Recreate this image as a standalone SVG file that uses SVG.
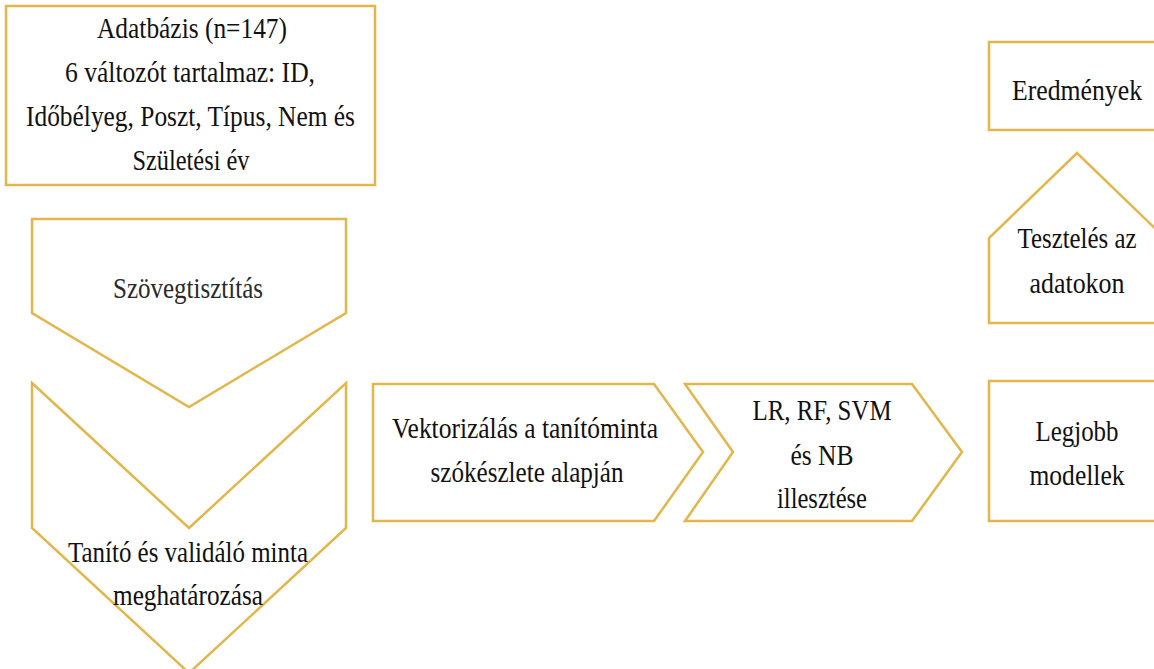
<svg xmlns="http://www.w3.org/2000/svg" width="1154" height="669" viewBox="0 0 1154 669">
<style>
.s{fill:#ffffff;stroke:#E3B64C;stroke-width:2.5;stroke-linejoin:miter}
text{font-family:'Liberation Serif','DejaVu Serif',serif;font-size:30px;fill:#111111;text-anchor:middle}
.g{fill:#2a2a2a}
</style>
<rect width="1154" height="669" fill="#ffffff"/>
<g id="adatbazis">
<rect class="s" x="6" y="6" width="369" height="179"/>
<text x="192" y="38" textLength="190" lengthAdjust="spacingAndGlyphs">Adatbázis (n=147)</text>
<text x="190" y="82" textLength="250" lengthAdjust="spacingAndGlyphs">6 változót tartalmaz: ID,</text>
<text x="190.5" y="126" textLength="329" lengthAdjust="spacingAndGlyphs">Időbélyeg, Poszt, Típus, Nem és</text>
<text x="191" y="170" textLength="117" lengthAdjust="spacingAndGlyphs">Születési év</text>
</g>
<g id="szovegtisztitas">
<polygon class="s" points="32,219 346,219 346,313 189,407 32,313"/>
<text class="g" x="188" y="298" textLength="150" lengthAdjust="spacingAndGlyphs">Szövegtisztítás</text>
</g>
<g id="tanito">
<polygon class="s" points="32,383 189,528 346,383 346,528 189,673 32,528"/>
<text x="188" y="562" textLength="240" lengthAdjust="spacingAndGlyphs">Tanító és validáló minta</text>
<text x="188" y="605" textLength="150" lengthAdjust="spacingAndGlyphs">meghatározása</text>
</g>
<g id="vektorizalas">
<polygon class="s" points="373,384 654,384 703,452 654,521 373,521"/>
<text x="525" y="438" textLength="266" lengthAdjust="spacingAndGlyphs">Vektorizálás a tanítóminta</text>
<text x="527" y="482" textLength="193" lengthAdjust="spacingAndGlyphs">szókészlete alapján</text>
</g>
<g id="illesztes">
<polygon class="s" points="685,384 912,384 962,452 912,521 685,521 733,452"/>
<text x="822" y="420" textLength="139" lengthAdjust="spacingAndGlyphs">LR, RF, SVM</text>
<text x="822" y="465" textLength="63" lengthAdjust="spacingAndGlyphs">és NB</text>
<text x="822" y="508" textLength="90" lengthAdjust="spacingAndGlyphs">illesztése</text>
</g>
<g id="legjobb">
<rect class="s" x="989" y="381" width="180" height="140"/>
<text x="1077" y="441" textLength="83" lengthAdjust="spacingAndGlyphs">Legjobb</text>
<text x="1077" y="485" textLength="95" lengthAdjust="spacingAndGlyphs">modellek</text>
</g>
<g id="teszteles">
<polygon class="s" points="989,323 989,238 1077,153 1165,238 1165,323"/>
<text x="1077" y="248" textLength="119" lengthAdjust="spacingAndGlyphs">Tesztelés az</text>
<text x="1077" y="293" textLength="95" lengthAdjust="spacingAndGlyphs">adatokon</text>
</g>
<g id="eredmenyek">
<rect class="s" x="989" y="42" width="180" height="88"/>
<text x="1077" y="100" textLength="130" lengthAdjust="spacingAndGlyphs">Eredmények</text>
</g>
<g id="connectors"></g>
</svg>
